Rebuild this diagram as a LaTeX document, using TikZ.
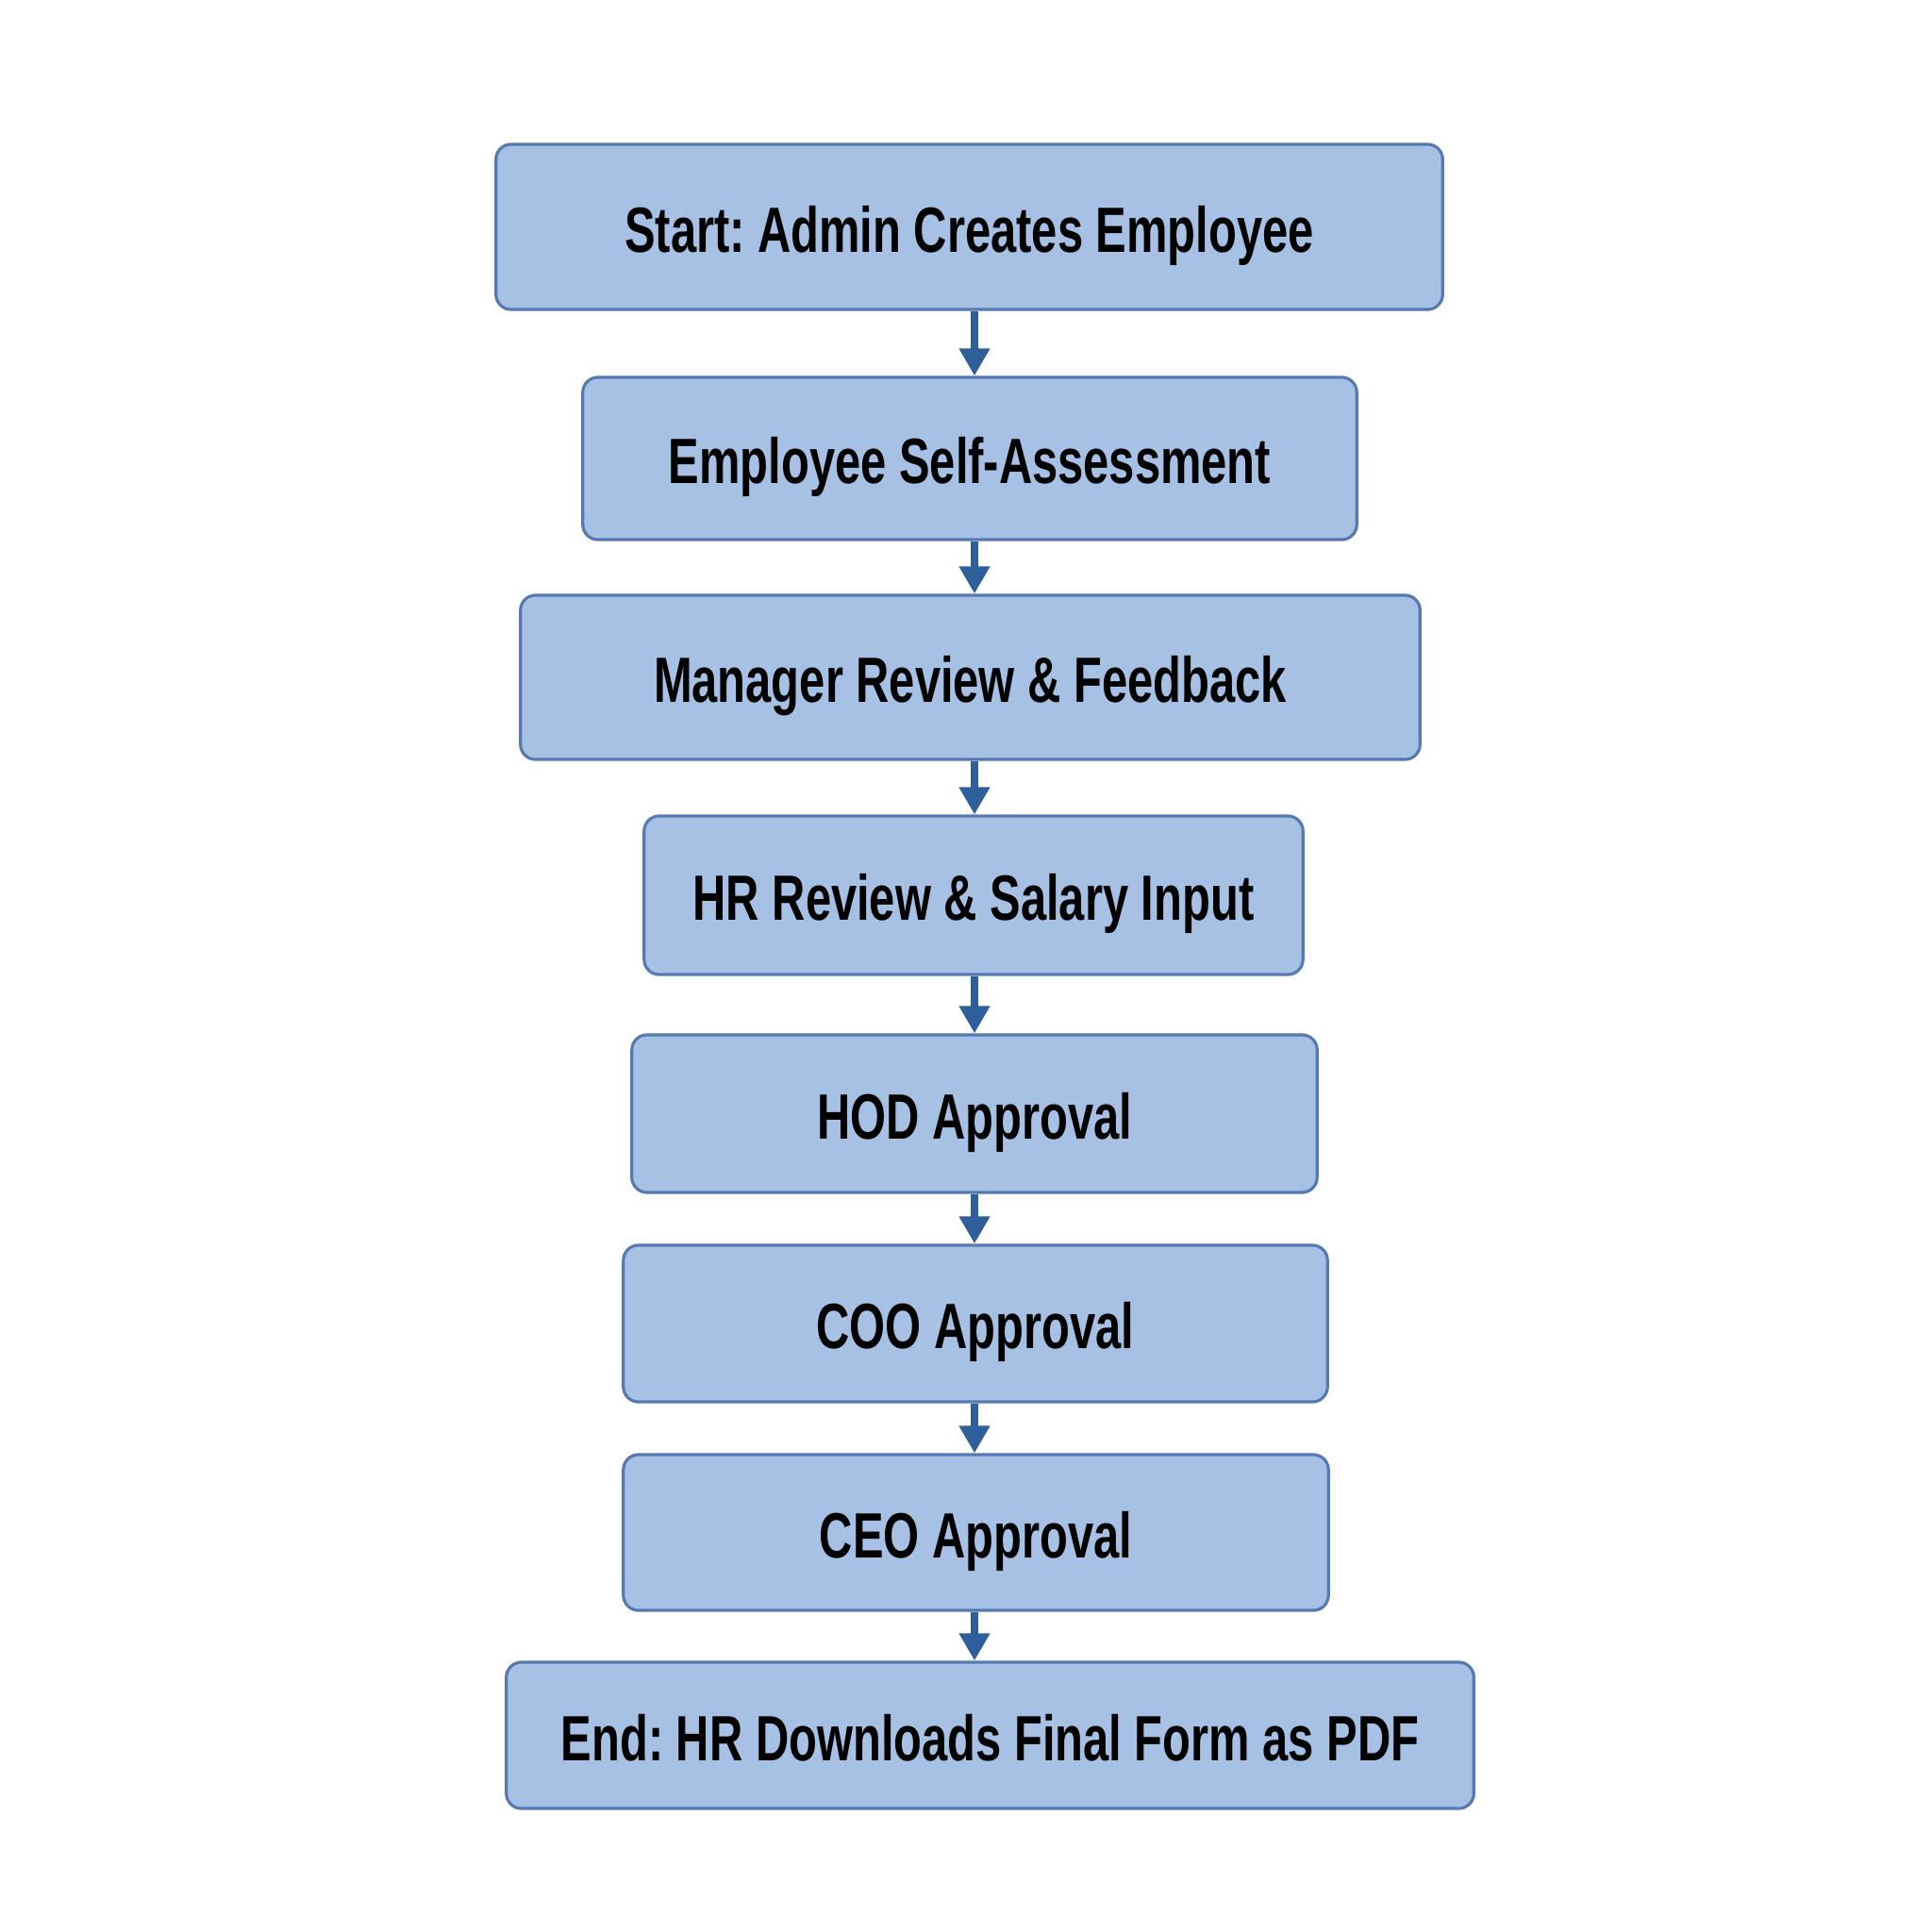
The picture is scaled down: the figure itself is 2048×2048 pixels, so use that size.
\documentclass[tikz,border=0pt]{standalone}
\usepackage{fontspec}
\newfontfamily\boxfont{Liberation Sans}[FakeStretch=0.72]
\usetikzlibrary{arrows.meta}
\definecolor{boxfill}{HTML}{A7C1E5}
\definecolor{boxline}{HTML}{5679B2}
\definecolor{arrowc}{HTML}{2E5F9A}
\tikzset{
  stepbox/.style={draw=boxline, line width=0.9pt, fill=boxfill, rounded corners=0.16cm,
    inner sep=0pt, align=center, text height=0.6cm, text depth=0.07cm,
    font=\frenchspacing\boxfont\bfseries\fontsize{19.3}{23}\selectfont, text=black},
  flow/.style={draw=arrowc, line width=2.4pt, -{Triangle[width=0.31cm,length=0.29cm]}}
}
\begin{document}
\begin{tikzpicture}[x=0.01cm,y=-0.01cm]
\useasboundingbox[fill=white] (0,0) rectangle (2048,2048);
\node[stepbox, minimum width=10.03cm, minimum height=1.75cm] (b1) at (1027.5,240.5) {Start: Admin Creates Employee};
\node[stepbox, minimum width=8.20cm, minimum height=1.72cm] (b2) at (1028,486) {Employee Self-Assessment};
\node[stepbox, minimum width=9.53cm, minimum height=1.74cm] (b3) at (1028.5,718) {Manager Review \& Feedback};
\node[stepbox, minimum width=6.98cm, minimum height=1.68cm] (b4) at (1032,949) {HR Review \& Salary Input};
\node[stepbox, minimum width=7.26cm, minimum height=1.67cm] (b5) at (1033,1180.5) {HOD Approval};
\node[stepbox, minimum width=7.46cm, minimum height=1.66cm] (b6) at (1034,1403) {COO Approval};
\node[stepbox, minimum width=7.47cm, minimum height=1.65cm] (b7) at (1034.5,1624.5) {CEO Approval};
\node[stepbox, minimum width=10.25cm, minimum height=1.55cm] (b8) at (1049.5,1839.5) {End: HR Downloads Final Form as PDF};
\coordinate (ax) at (1033,0);
\foreach \a/\b in {b1/b2,b2/b3,b3/b4,b4/b5,b5/b6,b6/b7,b7/b8}{
  \draw[flow] (\a.south -| ax) -- (\b.north -| ax);
}
\end{tikzpicture}
\end{document}
